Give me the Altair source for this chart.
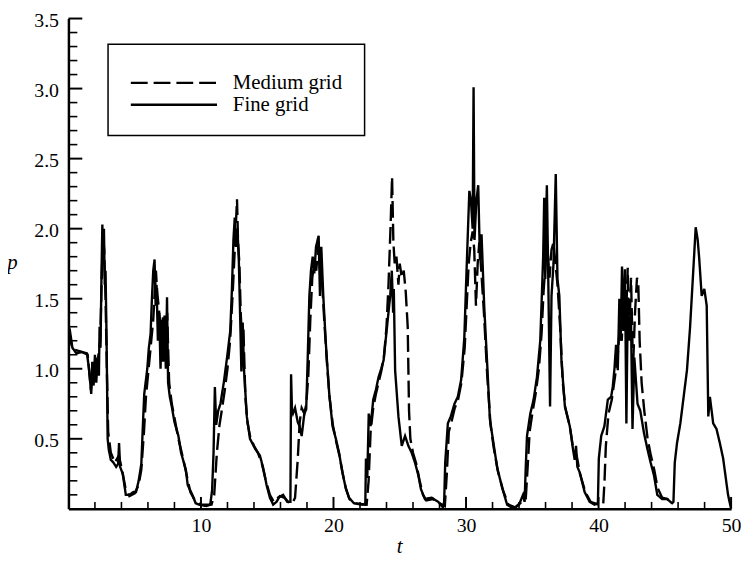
import altair as alt
import pandas as pd

# ---- data (t, p) ----
fine_grid = [
    (0.0, 1.30), (0.1, 1.28), (0.3, 1.15), (0.6, 1.11), (1.0, 1.12), (1.4, 1.11), (1.55, 1.0),
    (1.72, 0.82), (1.8, 1.05), (1.9, 0.88), (2.0, 1.1), (2.1, 0.9), (2.2, 1.08), (2.3, 0.95),
    (2.35, 1.3), (2.42, 1.15), (2.5, 1.7), (2.56, 2.03), (2.62, 1.75), (2.68, 2.0), (2.74, 1.6),
    (2.8, 1.7), (2.88, 1.2), (2.96, 0.5), (3.05, 0.42), (3.2, 0.35), (3.4, 0.33), (3.6, 0.3),
    (3.75, 0.32), (3.82, 0.47), (3.9, 0.3), (4.1, 0.25), (4.33, 0.1), (4.6, 0.1), (4.9, 0.12),
    (5.1, 0.12), (5.3, 0.2), (5.5, 0.32), (5.62, 0.6), (5.72, 0.82), (5.95, 1.0), (6.07, 1.15),
    (6.2, 1.25), (6.3, 1.5), (6.4, 1.7), (6.5, 1.78), (6.58, 1.45), (6.65, 1.6), (6.75, 1.2),
    (6.85, 1.4), (6.95, 1.0), (7.05, 1.35), (7.15, 1.05), (7.25, 1.38), (7.35, 1.0), (7.44, 1.51),
    (7.52, 0.9), (7.65, 0.8), (7.8, 0.73), (8.0, 0.62), (8.3, 0.52), (8.5, 0.4), (8.86, 0.28),
    (9.0, 0.17), (9.35, 0.1), (9.6, 0.04), (9.85, 0.03), (10.4, 0.02), (10.7, 0.03), (10.84, 0.13),
    (10.95, 0.4), (11.05, 0.87), (11.15, 0.6), (11.3, 0.7), (11.47, 0.75), (11.72, 0.9),
    (11.97, 1.08), (12.21, 1.27), (12.33, 1.55), (12.45, 1.92), (12.55, 2.08), (12.63, 1.87),
    (12.75, 2.0), (12.85, 1.8), (12.96, 1.36), (13.05, 0.98), (13.15, 1.33), (13.25, 0.99),
    (13.46, 0.66), (13.7, 0.5), (14.08, 0.43), (14.3, 0.4), (14.45, 0.38), (14.7, 0.29),
    (14.95, 0.17), (15.2, 0.08), (15.45, 0.03), (15.7, 0.05), (15.95, 0.09), (16.3, 0.08),
    (16.6, 0.05), (16.75, 0.05), (16.8, 0.96), (16.87, 0.7), (16.94, 0.68), (17.1, 0.72),
    (17.3, 0.62), (17.44, 0.59), (17.6, 0.52), (17.8, 0.68), (17.94, 0.71), (18.05, 1.06),
    (18.18, 1.52), (18.3, 1.7), (18.43, 1.8), (18.55, 1.68), (18.68, 1.87), (18.88, 1.95),
    (18.98, 1.52), (19.08, 1.87), (19.23, 1.52), (19.43, 1.17), (19.68, 0.82), (19.93, 0.59),
    (20.18, 0.5), (20.42, 0.4), (20.67, 0.26), (20.92, 0.15), (21.17, 0.08), (21.54, 0.04),
    (22.16, 0.03), (22.4, 0.03), (22.45, 0.36), (22.55, 0.22), (22.66, 0.68), (22.8, 0.59),
    (23.0, 0.78), (23.2, 0.85), (23.4, 0.94), (23.6, 1.0), (23.78, 1.06), (24.03, 1.29),
    (24.2, 1.45), (24.28, 1.52), (24.4, 1.7), (24.5, 1.4), (24.55, 1.57), (24.65, 0.99),
    (24.9, 0.66), (25.15, 0.45), (25.4, 0.52), (25.65, 0.45), (25.9, 0.4), (26.15, 0.33),
    (26.4, 0.24), (26.6, 0.14), (26.9, 0.07), (27.4, 0.08), (27.9, 0.05), (28.26, 0.01),
    (28.35, 0.05), (28.43, 0.33), (28.63, 0.61), (28.85, 0.66), (29.13, 0.75), (29.38, 0.8),
    (29.63, 0.92), (29.87, 1.22), (30.0, 1.59), (30.12, 1.92), (30.25, 2.27), (30.37, 2.2),
    (30.5, 2.0), (30.57, 3.01), (30.64, 1.92), (30.78, 2.2), (30.92, 2.31), (31.05, 1.78),
    (31.17, 1.96), (31.37, 1.45), (31.62, 0.99), (31.8, 0.64), (32.1, 0.45), (32.36, 0.29),
    (32.73, 0.15), (33.1, 0.03), (33.6, 0.0), (34.0, 0.03), (34.3, 0.1), (34.42, 0.05),
    (34.5, 0.28), (34.6, 0.52), (34.85, 0.68), (35.1, 0.78), (35.35, 0.94), (35.6, 1.2),
    (35.72, 1.52), (35.82, 1.8), (35.9, 2.22), (35.98, 1.64), (36.05, 2.1), (36.1, 2.31),
    (36.2, 1.68), (36.34, 0.73), (36.45, 1.52), (36.6, 1.75), (36.77, 2.39), (36.9, 1.64),
    (37.04, 1.52), (37.2, 1.06), (37.46, 0.73), (37.83, 0.59), (38.08, 0.42), (38.2, 0.35),
    (38.3, 0.45), (38.4, 0.3), (38.58, 0.26), (38.95, 0.12), (39.33, 0.05), (39.7, 0.03),
    (39.95, 0.04), (40.02, 0.36), (40.2, 0.52), (40.44, 0.59), (40.7, 0.78), (40.95, 0.8),
    (41.07, 0.87), (41.2, 1.0), (41.32, 1.17), (41.45, 0.99), (41.57, 1.5), (41.67, 1.2),
    (41.77, 1.73), (41.87, 1.27), (41.99, 1.71), (42.1, 0.61), (42.2, 1.45), (42.3, 1.2),
    (42.44, 1.41), (42.56, 0.57), (42.7, 1.08), (42.94, 0.75), (43.15, 0.7), (43.43, 0.54),
    (43.68, 0.43), (43.93, 0.33), (44.18, 0.24), (44.43, 0.1), (44.8, 0.07), (45.17, 0.07),
    (45.55, 0.04), (45.65, 0.05), (45.75, 0.33), (45.92, 0.47), (46.17, 0.61), (46.42, 0.8),
    (46.67, 0.99), (46.9, 1.29), (47.14, 1.69), (47.33, 2.01), (47.48, 1.92), (47.6, 1.78),
    (47.78, 1.52), (47.98, 1.57), (48.16, 1.45), (48.28, 0.66), (48.4, 0.8), (48.65, 0.61),
    (48.9, 0.57), (49.15, 0.47), (49.4, 0.36), (49.5, 0.29), (49.77, 0.1), (50.0, 0.0),
]

medium_grid = [
    (0.0, 1.28), (0.3, 1.14), (1.0, 1.12), (1.45, 1.1), (1.7, 0.85), (1.85, 1.0), (2.0, 0.92),
    (2.2, 1.05), (2.4, 1.2), (2.5, 1.6), (2.6, 1.95), (2.7, 1.85), (2.8, 1.5), (2.9, 1.0),
    (3.0, 0.55), (3.2, 0.4), (3.5, 0.33), (3.8, 0.38), (4.0, 0.3), (4.3, 0.15), (4.6, 0.09),
    (5.0, 0.11), (5.3, 0.17), (5.5, 0.28), (5.7, 0.55), (5.85, 0.8), (6.0, 0.95), (6.2, 1.15),
    (6.4, 1.35), (6.6, 1.7), (6.7, 1.55), (6.85, 1.4), (7.0, 1.25), (7.15, 1.38), (7.3, 1.1),
    (7.45, 1.4), (7.6, 0.9), (7.8, 0.75), (8.0, 0.65), (8.3, 0.5), (8.6, 0.38), (8.9, 0.25),
    (9.2, 0.12), (9.6, 0.05), (10.0, 0.03), (10.8, 0.03), (11.0, 0.1), (11.2, 0.4), (11.4, 0.6),
    (11.6, 0.72), (11.8, 0.85), (12.0, 1.0), (12.2, 1.2), (12.4, 1.55), (12.55, 1.85),
    (12.72, 2.21), (12.8, 1.9), (12.9, 1.75), (13.0, 1.4), (13.1, 1.2), (13.2, 1.3), (13.35, 0.8),
    (13.5, 0.62), (13.7, 0.52), (14.0, 0.45), (14.3, 0.4), (14.6, 0.32), (14.9, 0.2), (15.2, 0.1),
    (15.5, 0.05), (15.8, 0.08), (16.2, 0.1), (16.5, 0.05), (16.9, 0.04), (17.1, 0.08),
    (17.3, 0.35), (17.45, 0.62), (17.6, 0.72), (17.8, 0.68), (17.95, 0.75), (18.1, 0.95),
    (18.25, 1.35), (18.4, 1.65), (18.55, 1.75), (18.7, 1.7), (18.85, 1.88), (19.0, 1.7),
    (19.15, 1.6), (19.3, 1.35), (19.5, 1.05), (19.7, 0.8), (19.95, 0.6), (20.2, 0.48),
    (20.45, 0.38), (20.7, 0.25), (20.95, 0.14), (21.2, 0.07), (21.6, 0.04), (22.5, 0.03),
    (22.65, 0.2), (22.8, 0.55), (23.0, 0.72), (23.2, 0.82), (23.4, 0.9), (23.6, 0.98),
    (23.8, 1.08), (24.0, 1.3), (24.15, 1.6), (24.3, 2.0), (24.42, 2.37), (24.52, 1.9),
    (24.62, 1.75), (24.75, 1.8), (24.9, 1.6), (25.0, 1.75), (25.15, 1.65), (25.3, 1.7),
    (25.45, 1.55), (25.6, 1.3), (25.7, 0.7), (25.8, 0.5), (26.0, 0.4), (26.25, 0.32),
    (26.5, 0.2), (26.75, 0.1), (27.0, 0.06), (27.5, 0.07), (28.0, 0.04), (28.4, 0.02),
    (28.55, 0.25), (28.7, 0.55), (28.9, 0.62), (29.15, 0.72), (29.4, 0.78), (29.65, 0.9),
    (29.9, 1.15), (30.05, 1.45), (30.2, 1.75), (30.35, 1.9), (30.5, 1.98), (30.62, 1.85),
    (30.75, 1.45), (30.88, 1.75), (31.0, 1.9), (31.15, 1.7), (31.35, 1.4), (31.6, 0.95),
    (31.85, 0.6), (32.1, 0.43), (32.4, 0.27), (32.8, 0.13), (33.2, 0.03), (33.7, 0.01),
    (34.2, 0.05), (34.5, 0.06), (34.65, 0.3), (34.8, 0.55), (35.0, 0.68), (35.25, 0.82),
    (35.5, 1.0), (35.7, 1.25), (35.85, 1.55), (36.0, 1.75), (36.15, 1.85), (36.3, 1.65),
    (36.45, 1.85), (36.6, 1.9), (36.75, 1.75), (36.9, 1.6), (37.1, 1.3), (37.3, 0.9),
    (37.5, 0.72), (37.85, 0.58), (38.1, 0.42), (38.35, 0.38), (38.6, 0.25), (39.0, 0.12),
    (39.4, 0.05), (40.0, 0.03), (40.35, 0.03), (40.45, 0.2), (40.55, 0.45), (40.75, 0.68),
    (41.0, 0.78), (41.25, 0.95), (41.45, 1.1), (41.6, 1.3), (41.75, 1.2), (41.9, 1.55),
    (42.05, 1.3), (42.2, 1.72), (42.3, 1.2), (42.45, 1.65), (42.6, 1.0), (42.75, 1.4),
    (42.9, 1.65), (43.0, 1.6), (43.1, 1.2), (43.25, 0.9), (43.45, 0.7), (43.7, 0.5),
    (43.95, 0.38), (44.2, 0.28), (44.45, 0.15), (44.8, 0.08), (45.2, 0.07), (45.55, 0.04),
]

series_names = ["Medium grid", "Fine grid"]
x_major = [10, 20, 30, 40, 50]
x_minor = [2, 4, 6, 8, 12, 14, 16, 18, 22, 24, 26, 28, 32, 34, 36, 38, 42, 44, 46, 48]
y_major = [0.5, 1.0, 1.5, 2.0, 2.5, 3.0, 3.5]
y_minor = [round(0.1 * k, 1) for k in range(1, 35) if k % 5 != 0]

# ---- build tables ----
rows = []
for name, pts in ((series_names[0], medium_grid), (series_names[1], fine_grid)):
    for i, (t, p) in enumerate(pts):
        rows.append({"t": t, "p": p, "series": name, "order": i})
df = pd.DataFrame(rows)

FONT = "Liberation Serif"
W, H = 669, 495

xscale = alt.Scale(domain=[0, 50], nice=False, zero=False)
yscale = alt.Scale(domain=[0, 3.5], nice=False, zero=False)

lines = alt.Chart(df).mark_line(strokeWidth=2.4, color="black", clip=True).encode(
    x=alt.X("t:Q", scale=xscale, axis=alt.Axis(
        values=x_major, ticks=False, grid=False, domainColor="black", domainWidth=2.5,
        labelFont=FONT, labelFontSize=20, labelColor="black", labelPadding=7,
        labelFlush=False, labelOverlap=False,
        title="t", titleFont=FONT, titleFontSize=21, titleFontStyle="italic",
        titleFontWeight="normal", titleColor="black", titleX=334, titleY=38,
        titleBaseline="middle", titleAlign="center")),
    y=alt.Y("p:Q", scale=yscale, axis=alt.Axis(
        values=y_major, format=".1f", ticks=False, grid=False, domainColor="black",
        domainWidth=2.5, labelFont=FONT, labelFontSize=20, labelColor="black",
        labelPadding=10, labelFlush=False, labelOverlap=False, labelOffset=2,
        title="p", titleFont=FONT, titleFontSize=21,
        titleFontStyle="italic", titleFontWeight="normal", titleColor="black",
        titleAngle=0, titleX=-57, titleY=246, titleBaseline="middle", titleAlign="center")),
    strokeDash=alt.StrokeDash("series:N", scale=alt.Scale(
        domain=series_names, range=[[17, 6], [1, 0]]), legend=None),
    detail="series:N",
    order="order:Q",
)

xmaj = alt.Chart(pd.DataFrame({"t": x_major})).mark_rule(color="black", strokeWidth=2).encode(
    x=alt.X("t:Q", scale=xscale), y=alt.value(H - 12), y2=alt.value(H))
xmin = alt.Chart(pd.DataFrame({"t": x_minor})).mark_rule(color="black", strokeWidth=1.6).encode(
    x=alt.X("t:Q", scale=xscale), y=alt.value(H - 7), y2=alt.value(H))
ymaj = alt.Chart(pd.DataFrame({"p": y_major})).mark_rule(color="black", strokeWidth=2).encode(
    y=alt.Y("p:Q", scale=yscale), x=alt.value(0), x2=alt.value(14))
ymin = alt.Chart(pd.DataFrame({"p": y_minor})).mark_rule(color="black", strokeWidth=1.6).encode(
    y=alt.Y("p:Q", scale=yscale), x=alt.value(0), x2=alt.value(9))

# ---- legend box drawn by hand ----
leg_df = pd.DataFrame({"series": series_names, "row": [0, 1]})
box = alt.Chart(pd.DataFrame({"k": [0]})).mark_rect(
    fill="white", stroke="black", strokeWidth=1.5).encode(
    x=alt.value(40), x2=alt.value(299), y=alt.value(26), y2=alt.value(118))
leg_dash = alt.Chart(leg_df.iloc[[0]]).mark_rule(
    color="black", strokeWidth=2.4, strokeDash=[17, 6]).encode(
    x=alt.value(63), x2=alt.value(150), y=alt.value(65))
leg_solid = alt.Chart(leg_df.iloc[[1]]).mark_rule(color="black", strokeWidth=2.4).encode(
    x=alt.value(63), x2=alt.value(150), y=alt.value(87))
leg_text1 = alt.Chart(leg_df.iloc[[0]]).mark_text(
    font=FONT, fontSize=21, align="left", baseline="middle", color="black").encode(
    x=alt.value(166), y=alt.value(65), text="series:N")
leg_text2 = alt.Chart(leg_df.iloc[[1]]).mark_text(
    font=FONT, fontSize=21, align="left", baseline="middle", color="black").encode(
    x=alt.value(166), y=alt.value(87), text="series:N")

chart = alt.layer(
    lines, xmaj, xmin, ymaj, ymin, box, leg_dash, leg_solid, leg_text1, leg_text2
).properties(
    width=W, height=H,
    autosize=alt.AutoSizeParams(type="none"),
    padding={"left": 61, "top": 8, "right": 10, "bottom": 48},
    background="white",
).configure_view(stroke=None)

chart.save("out.html", embed_options={"renderer": "svg", "actions": False})
